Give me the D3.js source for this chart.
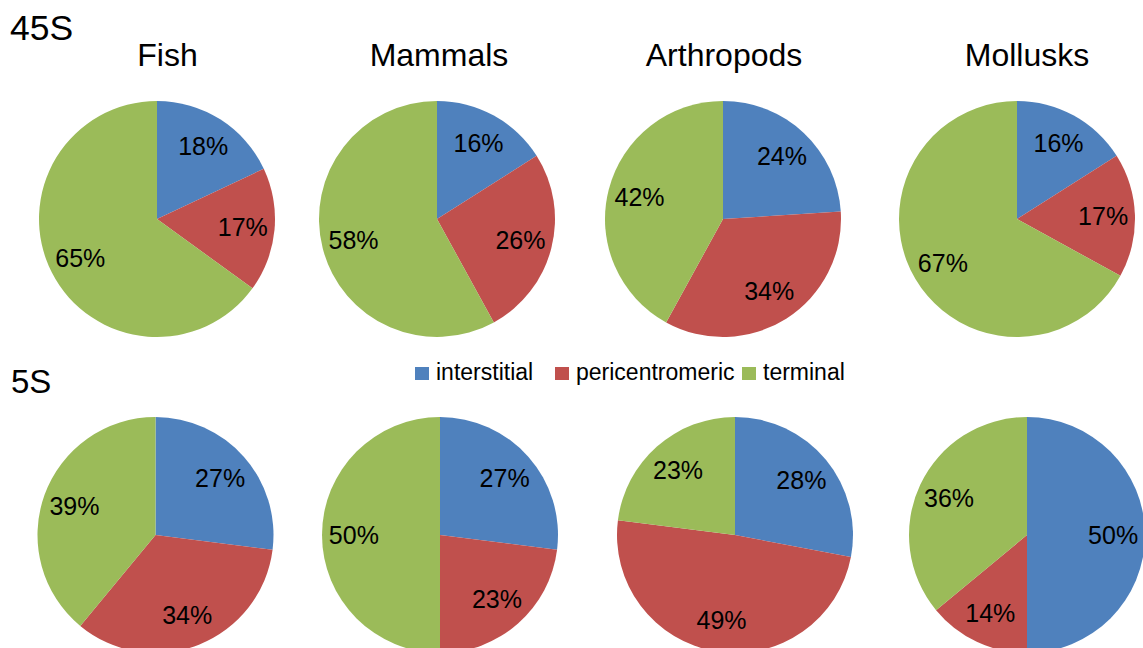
<!DOCTYPE html>
<html>
<head>
<meta charset="utf-8">
<script src="https://cdn.jsdelivr.net/npm/d3@7/dist/d3.min.js"></script>
<style>
  html, body { margin: 0; padding: 0; background: #ffffff; overflow: hidden; }
  svg { display: block; }
  text { font-family: Arial, "Liberation Sans", Helvetica, sans-serif; fill: #000000; }
</style>
</head>
<body>
<svg id="chart" width="1143" height="648"></svg>
<script>
// Location classes of rDNA sites, in slice order (clockwise from 12 o'clock)
const categories = ["interstitial", "pericentromeric", "terminal"];
const groups = ["Fish", "Mammals", "Arthropods", "Mollusks"];

// Percent of sites per class, one triple per group
const values45S = [
  [18, 17, 65],
  [16, 26, 58],
  [24, 34, 42],
  [16, 17, 67]
];
const values5S = [
  [27, 34, 39],
  [27, 23, 50],
  [28, 49, 23],
  [50, 14, 36]
];

const rowLabels = ["45S", "5S"];

// ---- layout & style ----
const W = 1143, H = 648;
const colors = d3.scaleOrdinal().domain(categories).range(["#4F81BD", "#C0504D", "#9BBB59"]);
const radius = 118;
const labelRadius = 0.73 * radius;
const rows = [
  { values: values45S, cy: 219, cx: [157, 437, 723, 1017] },
  { values: values5S,  cy: 535, cx: [155.5, 440, 735, 1027] }
];
const titleX = [167.5, 439, 724, 1027];

const svg = d3.select("#chart");

const pie = d3.pie().sort(null).value(d => d);
const arc = d3.arc().innerRadius(0).outerRadius(radius);
const labelArc = d3.arc().innerRadius(labelRadius).outerRadius(labelRadius);

// Row headings
svg.append("text").attr("x", 10).attr("y", 40).attr("font-size", 35.5).text(rowLabels[0]);
svg.append("text").attr("x", 11).attr("y", 393).attr("font-size", 33).text(rowLabels[1]);

// Group titles above the first row
svg.selectAll("text.title")
  .data(groups)
  .join("text")
  .attr("class", "title")
  .attr("x", (d, i) => titleX[i])
  .attr("y", 66)
  .attr("text-anchor", "middle")
  .attr("font-size", 32)
  .text(d => d);

// Pies
rows.forEach(row => {
  row.values.forEach((vals, gi) => {
    const g = svg.append("g")
      .attr("transform", `translate(${row.cx[gi]},${row.cy})`);
    const slices = pie(vals).map((s, k) => Object.assign(s, { cat: categories[k] }));

    g.selectAll("path")
      .data(slices)
      .join("path")
      .attr("d", arc)
      .attr("fill", d => colors(d.cat));

    g.selectAll("text")
      .data(slices)
      .join("text")
      .attr("transform", d => `translate(${labelArc.centroid(d)})`)
      .attr("text-anchor", "middle")
      .attr("dy", "0.35em")
      .attr("font-size", 25)
      .text(d => d.data + "%");
  });
});

// Legend between the two rows
const legendX = [415, 555, 742];
const legend = svg.append("g").attr("transform", "translate(0,367)");
const items = legend.selectAll("g")
  .data(categories)
  .join("g")
  .attr("transform", (d, i) => `translate(${legendX[i]},0)`);
items.append("rect")
  .attr("width", 14).attr("height", 13)
  .attr("fill", d => colors(d));
items.append("text")
  .attr("x", 21)
  .attr("y", 12.5)
  .attr("font-size", 23)
  .text(d => d);
</script>
</body>
</html>
